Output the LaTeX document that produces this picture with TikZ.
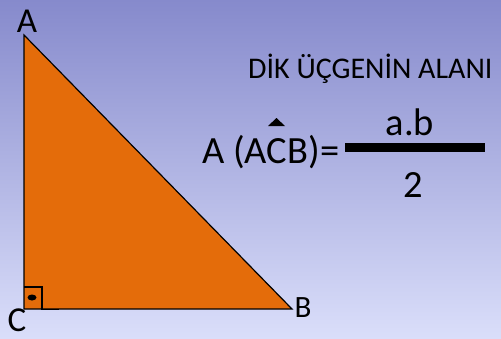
\documentclass[tikz,border=0pt]{standalone}
\usepackage{fontspec}
\setmainfont{Carlito}
\definecolor{bgtop}{RGB}{134,138,204}
\definecolor{bgbot}{RGB}{218,222,250}
\definecolor{tri}{RGB}{228,108,10}
\tikzset{
  vlabel/.style={font=\fontsize{35}{35}\selectfont, inner sep=0pt},
  txt/.style={font=\fontsize{30}{30}\selectfont, inner sep=0pt, anchor=base west},
  formula/.style={font=\fontsize{38.5}{38.5}\selectfont, inner sep=0pt, anchor=base west},
}
\begin{document}
\begin{tikzpicture}[x=1pt,y=-1pt]
\useasboundingbox (0,0) rectangle (501,338);
\shade[top color=bgtop, bottom color=bgbot] (0,0) rectangle (501,338);
% triangle
\coordinate (A) at (24,35);
\coordinate (C) at (24,309);
\coordinate (B) at (292,309);
\filldraw[fill=tri, draw=black, line width=1.2pt, line join=miter] (A) -- (C) -- (B) -- cycle;
% right angle mark
\draw[line width=1.4pt] (24,287) -- (42,287) -- (42,309.5) -- (59,309.5);
\fill[black] (32,297.5) ellipse (4.5 and 3);
% vertex labels
\node[vlabel] (la) at (27,21.5) {A};
\node[vlabel] (lc) at (17,320) {C};
\node[vlabel, font=\fontsize{31}{31}\selectfont] (lb) at (303,308) {B};
% title
\node[txt] (title) at (248,78.5) {DİK ÜÇGENİN ALANI};
% formula
\node[formula] (lhs) at (202,163) {A (ACB)=};
\fill[black] (268,126) -- (276.5,118) -- (285,126) -- cycle;
\fill[black] (345,143) rectangle (485,152);
\node[formula, anchor=base] (num) at (410,135) {a.b};
\node[formula, anchor=base] (den) at (413,197) {2};
\end{tikzpicture}
\end{document}
